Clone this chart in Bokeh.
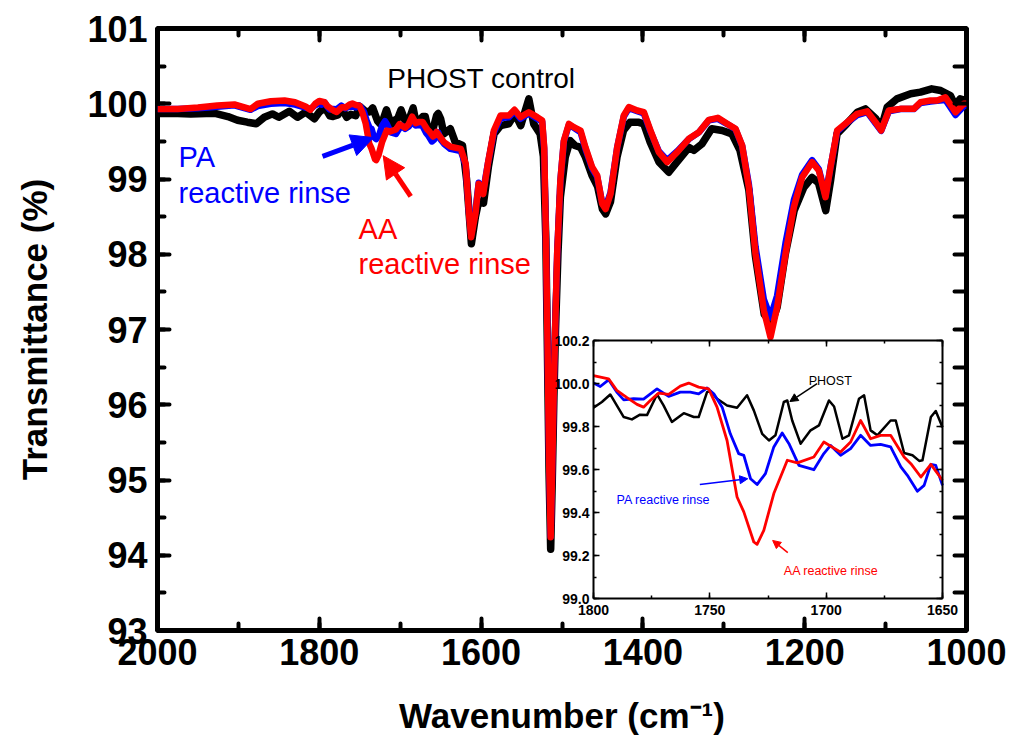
from bokeh.plotting import figure
from bokeh.models import (Range1d, LinearAxis, SingleIntervalTicker, NumeralTickFormatter,
                          Label, Arrow, NormalHead, CustomLabelingPolicy)
from bokeh.embed import file_html
from bokeh.resources import INLINE

FONT = "Liberation Sans"

# ---------------- main spectra (wavenumber cm-1, transmittance %) ----------------
wn_phost = [2000, 1975, 1959, 1930, 1913, 1901, 1889, 1878, 1868, 1858, 1850, 1837, 1827, 1817, 1806,
            1800, 1793, 1787, 1783, 1777, 1773, 1766, 1761, 1755, 1750, 1743, 1738, 1734, 1728, 1725,
            1722, 1717, 1711, 1707, 1703, 1699, 1693, 1690, 1684, 1681, 1678, 1672, 1669, 1666, 1660,
            1655, 1653, 1650, 1646, 1638, 1632, 1623, 1618, 1612, 1607, 1603, 1597, 1591, 1584, 1576,
            1566, 1558, 1551, 1541, 1535, 1527, 1523, 1520, 1518, 1516, 1514, 1512, 1510, 1508, 1505,
            1502, 1496, 1490, 1484, 1477, 1471, 1463, 1456, 1450, 1446, 1440, 1432, 1424, 1416, 1406,
            1399, 1391, 1380, 1368, 1358, 1343, 1337, 1327, 1315, 1302, 1290, 1280, 1269, 1261, 1250,
            1241, 1234, 1224, 1213, 1201, 1191, 1183, 1174, 1168, 1160, 1148, 1135, 1125, 1112, 1105,
            1098, 1086, 1069, 1057, 1043, 1032, 1020, 1014, 1008, 1000]
t_phost = [99.87, 99.87, 99.865, 99.875, 99.83, 99.78, 99.755, 99.735, 99.82, 99.865, 99.82, 99.90, 99.82, 99.89, 99.80,
           99.89, 99.95, 99.84, 99.83, 99.85, 99.95, 99.82, 99.86, 99.84, 99.965, 99.90, 99.89, 99.945, 99.77, 99.735,
           99.76, 99.92, 99.72, 99.78, 99.805, 99.92, 99.745, 99.76, 99.945, 99.78, 99.76, 99.83, 99.83, 99.68, 99.64,
           99.845, 99.87, 99.80, 99.60, 99.667, 99.49, 99.445, 99.0, 98.14, 98.50, 98.70, 98.68, 99.16, 99.60, 99.71,
           99.733, 99.866, 99.71, 100.065, 99.733, 99.60, 99.3, 98.2, 96.7, 95.1, 94.08, 95.0, 96.1, 97.0, 98.0,
           98.76, 99.29, 99.51, 99.445, 99.42, 99.29, 99.05, 98.90, 98.60, 98.537, 98.70, 99.29, 99.644, 99.755, 99.755,
           99.733, 99.49, 99.224, 99.09, 99.224, 99.42, 99.38, 99.467, 99.667, 99.644, 99.60, 99.38, 98.85, 97.98, 97.20,
           97.08, 97.30, 98.00, 98.58, 98.89, 99.02, 98.95, 98.58, 98.98, 99.60, 99.733, 99.888, 99.932, 99.80, 99.689,
           99.955, 100.065, 100.132, 100.154, 100.198, 100.176, 100.11, 99.977, 100.065, 100.04]

wn_pa = [2000, 1975, 1950, 1926, 1905, 1885, 1876, 1860, 1843, 1830, 1817, 1811, 1805,
         1800, 1797, 1793.5, 1790, 1787, 1782.8, 1778.5, 1772.7, 1767.7, 1762.7, 1758.4, 1754.8, 1751.2,
         1748.3, 1744.7, 1741.2, 1737.6, 1735.4, 1732.5, 1729.7, 1726.1, 1722.5, 1718.9, 1716, 1711.7,
         1705.3, 1701, 1698.1, 1693.8, 1689.5, 1685.2, 1680.9, 1676.6, 1672.3, 1667.9, 1665.1, 1660.8,
         1657.9, 1655, 1652.9, 1650,
         1646, 1638, 1625, 1619, 1615, 1612.3, 1607, 1603, 1597.4, 1591.7, 1584.2, 1576, 1565.7, 1558.7,
         1551.3, 1541, 1530.7, 1524.5, 1522, 1520, 1518, 1516, 1514, 1512, 1510, 1508, 1506, 1502, 1497.7,
         1491.5, 1485.4, 1477, 1471, 1462.7, 1456.5, 1450.3, 1446.2, 1440, 1431.8, 1423.6, 1417.4, 1407,
         1398.8, 1390.6, 1380.3, 1370, 1357.6, 1343.2, 1330.8, 1318.5, 1307.4, 1295.8, 1285.5, 1277.3,
         1269, 1260.8, 1250.5, 1242.3, 1234.1, 1223.7, 1213.4, 1203.1, 1190.8, 1182.5, 1174.3, 1168.1,
         1159.9, 1147.5, 1135.1, 1122.8, 1112.5, 1105.5, 1096, 1081.6, 1065.1, 1056.9, 1044.5, 1036.3,
         1026, 1013.6, 1003.3, 1000]
t_pa = [99.93, 99.93, 99.94, 99.96, 99.98, 99.92, 99.97, 100.0, 100.01, 99.99, 99.95, 99.93, 99.98,
        100.002, 99.986, 100.017, 99.96, 99.924, 99.929, 99.927, 99.975, 99.94, 99.96, 99.96, 99.952, 99.979,
        99.952, 99.89, 99.766, 99.674, 99.666, 99.557, 99.53, 99.581, 99.705, 99.77, 99.72, 99.619,
        99.599, 99.674, 99.712, 99.666, 99.697, 99.759, 99.712, 99.717, 99.705, 99.612, 99.573, 99.499,
        99.526, 99.624, 99.619, 99.526,
        99.47, 99.40, 99.37, 99.18, 98.56, 98.26, 98.58, 98.95, 98.84, 99.2, 99.62, 99.81, 99.82, 99.90,
        99.80, 99.87, 99.80, 99.76, 99.40, 98.3, 96.9, 95.3, 94.25, 95.2, 96.3, 97.2, 98.0, 98.98, 99.50,
        99.72, 99.68, 99.62, 99.40, 99.14, 99.03, 98.68, 98.63, 98.82, 99.42, 99.83, 99.94, 99.90,
        99.87, 99.63, 99.37, 99.25, 99.37, 99.53, 99.62, 99.78, 99.80, 99.73, 99.66, 99.44,
        98.93, 98.10, 97.40, 97.16, 97.45, 98.15, 98.72, 99.06, 99.25, 99.13, 98.78, 99.16,
        99.63, 99.75, 99.85, 99.89, 99.74, 99.64, 99.90, 99.93, 99.93, 100.01, 100.03, 100.04,
        100.05, 99.85, 99.97, 99.98]

wn_aa = [2000, 1975, 1950, 1926, 1905, 1885, 1876, 1860, 1843, 1830, 1817, 1811, 1805,
         1800, 1793.5, 1790, 1785.6, 1781.3, 1778.5, 1775.6, 1772, 1767.7, 1762.7, 1759.1, 1754.8, 1750.5,
         1746.9, 1742.6, 1738.3, 1735.4, 1731.1, 1729.7, 1726.8, 1722.5, 1716.7, 1712.4, 1705.3, 1701,
         1693.8, 1689.5, 1685.2, 1680.9, 1676.6, 1672.3, 1666.5, 1663.6, 1659.3, 1655, 1650,
         1646, 1638, 1625, 1619, 1615, 1612.3, 1607, 1603, 1597.4, 1591.7, 1584.2, 1576, 1565.7, 1558.7,
         1551.3, 1541, 1530.7, 1524.5, 1522, 1520, 1518, 1516, 1514, 1512, 1510, 1508, 1506, 1502, 1497.7,
         1491.5, 1485.4, 1477, 1471, 1462.7, 1456.5, 1450.3, 1446.2, 1440, 1431.8, 1423.6, 1417.4, 1407,
         1398.8, 1390.6, 1380.3, 1370, 1357.6, 1343.2, 1330.8, 1318.5, 1307.4, 1295.8, 1285.5, 1277.3,
         1269, 1260.8, 1250.5, 1242.3, 1234.1, 1223.7, 1213.4, 1203.1, 1190.8, 1182.5, 1174.3, 1168.1,
         1159.9, 1147.5, 1135.1, 1122.8, 1112.5, 1105.5, 1096, 1081.6, 1065.1, 1056.9, 1044.5, 1036.3,
         1026, 1013.6, 1003.3, 1000]
t_aa = [99.93, 99.93, 99.95, 99.977, 99.99, 99.93, 100.0, 100.034, 100.043, 100.02, 99.963, 99.92, 100.0,
        100.037, 100.022, 99.968, 99.934, 99.903, 99.89, 99.921, 99.955, 99.949, 99.988, 100.002, 99.983, 99.975,
        99.89, 99.735, 99.472, 99.403, 99.263, 99.252, 99.317, 99.488, 99.643, 99.631, 99.658, 99.728,
        99.681, 99.728, 99.828, 99.743, 99.759, 99.759, 99.658, 99.627, 99.565, 99.624, 99.55,
        99.49, 99.43, 99.40, 99.2, 98.54, 98.227, 98.54, 98.936, 98.80, 99.2, 99.644, 99.844, 99.844, 99.92,
        99.822, 99.888, 99.822, 99.777, 99.42, 98.3, 96.9, 95.3, 94.24, 95.2, 96.3, 97.2, 98.0, 98.98, 99.51,
        99.733, 99.689, 99.644, 99.42, 99.157, 99.046, 98.67, 98.60, 98.80, 99.42, 99.844, 99.955, 99.91,
        99.888, 99.644, 99.357, 99.224, 99.357, 99.534, 99.622, 99.786, 99.813, 99.733, 99.667, 99.445,
        98.891, 98.005, 97.252, 96.898, 97.297, 98.005, 98.625, 99.024, 99.224, 99.113, 98.758, 99.157,
        99.644, 99.755, 99.866, 99.90, 99.755, 99.644, 99.91, 99.932, 99.932, 100.02, 100.043, 100.043,
        100.087, 99.888, 99.999, 100.0]

# ---------------- inset spectra (1800-1650 cm-1) ----------------
in_wn_phost = [1800, 1796.4, 1792.8, 1790, 1787, 1783.5, 1780, 1777, 1772.7, 1769.9, 1766.3, 1761.2,
               1756.9, 1754.8, 1751.2, 1749.8, 1746.9, 1742.6, 1738.3, 1734, 1731.1, 1727.5, 1724.6,
               1721.8, 1718.2, 1716.7, 1714.6, 1711, 1706.7, 1703.1, 1698.8, 1696.6, 1693, 1690.2,
               1685.9, 1683.7, 1680.9, 1678, 1672.3, 1670.1, 1666.5, 1662.9, 1660, 1658.6, 1655,
               1652.9, 1650]
in_t_phost = [99.887, 99.914, 99.949, 99.898, 99.844, 99.833, 99.855, 99.853, 99.949, 99.898, 99.821, 99.862,
              99.844, 99.844, 99.96, 99.965, 99.929, 99.898, 99.887, 99.945, 99.875, 99.766, 99.735,
              99.759, 99.914, 99.921, 99.828, 99.72, 99.782, 99.805, 99.921, 99.893, 99.743, 99.759,
              99.929, 99.945, 99.782, 99.759, 99.828, 99.828, 99.677, 99.666, 99.64, 99.643, 99.844,
              99.872, 99.797]

in_wn_pa = [1800, 1797.1, 1793.5, 1790, 1787, 1782.8, 1778.5, 1772.7, 1767.7, 1762.7, 1758.4, 1754.8,
            1751.2, 1748.3, 1744.7, 1741.2, 1737.6, 1735.4, 1732.5, 1729.7, 1726.1, 1722.5, 1718.9,
            1716, 1711.7, 1705.3, 1701, 1698.1, 1693.8, 1689.5, 1685.2, 1680.9, 1676.6, 1672.3,
            1667.9, 1665.1, 1660.8, 1657.9, 1655, 1652.9, 1650]
in_t_pa = [100.002, 99.986, 100.017, 99.96, 99.924, 99.929, 99.927, 99.975, 99.94, 99.96, 99.96, 99.952,
           99.979, 99.952, 99.89, 99.766, 99.674, 99.666, 99.557, 99.53, 99.581, 99.705, 99.77,
           99.72, 99.619, 99.599, 99.674, 99.712, 99.666, 99.697, 99.759, 99.712, 99.717, 99.705,
           99.612, 99.573, 99.499, 99.526, 99.624, 99.619, 99.526]

in_wn_aa = [1800, 1793.5, 1790, 1785.6, 1781.3, 1778.5, 1775.6, 1772, 1767.7, 1762.7, 1759.1, 1754.8,
            1750.5, 1746.9, 1742.6, 1738.3, 1735.4, 1731.1, 1729.7, 1726.8, 1722.5, 1716.7, 1712.4,
            1705.3, 1701, 1693.8, 1689.5, 1685.2, 1680.9, 1676.6, 1672.3, 1666.5, 1663.6, 1659.3,
            1655, 1650]
in_t_aa = [100.037, 100.022, 99.968, 99.934, 99.903, 99.89, 99.921, 99.955, 99.949, 99.988, 100.002, 99.983,
           99.975, 99.89, 99.735, 99.472, 99.403, 99.263, 99.252, 99.317, 99.488, 99.643, 99.631,
           99.658, 99.728, 99.681, 99.728, 99.828, 99.743, 99.759, 99.759, 99.658, 99.627, 99.565,
           99.624, 99.55]

# ---------------- layout (pixels) ----------------
W, H = 1009, 746
FL, FR, FT, FB = 157, 966, 28, 630          # main frame edges
IL, IR, IT, IB = 593, 942, 340, 598         # inset frame edges
X0, X1 = 2000, 1000
Y0, Y1 = 93, 101
IX0, IX1 = 1800, 1650
IY0, IY1 = 99.0, 100.2

# extra ranges that place the inset's data inside its box
ixs = (IR - IL) / (IX0 - IX1)
iys = (IB - IT) / (IY1 - IY0)
ix_start = IX0 + (IL - FL) / ixs
ix_end = IX1 - (FR - IR) / ixs
iy_end = IY1 + (IT - FT) / iys
iy_start = IY0 - (FB - IB) / iys

p = figure(width=W, height=H, output_backend="svg", toolbar_location=None,
           x_range=Range1d(X0, X1), y_range=Range1d(Y0, Y1),
           x_axis_type=None, y_axis_type=None,
           min_border_left=FL, min_border_right=W - FR, min_border_top=FT, min_border_bottom=H - FB)
p.extra_x_ranges = {"ix": Range1d(ix_start, ix_end)}
p.extra_y_ranges = {"iy": Range1d(iy_start, iy_end)}
p.xgrid.visible = False
p.ygrid.visible = False
p.outline_line_color = "black"
p.outline_line_width = 5
p.background_fill_color = "white"
p.border_fill_color = "white"

NO_LABELS = CustomLabelingPolicy(code="return;")


def style_main(ax, labels):
    ax.axis_line_color = None
    ax.major_tick_in = 12
    ax.major_tick_out = 0
    ax.minor_tick_in = 7
    ax.minor_tick_out = 0
    ax.major_tick_line_width = 4
    ax.minor_tick_line_width = 4
    ax.major_tick_line_cap = "round"
    ax.minor_tick_line_cap = "round"
    if labels:
        ax.major_label_text_font = FONT
        ax.major_label_text_font_size = "36px"
        ax.major_label_text_font_style = "bold"
        ax.major_label_text_color = "black"
        ax.axis_label_text_font = FONT
        ax.axis_label_text_font_size = "35px"
        ax.axis_label_text_font_style = "bold"
        ax.axis_label_text_color = "black"
    else:
        ax.major_label_policy = NO_LABELS


xb = LinearAxis(ticker=SingleIntervalTicker(interval=200, num_minor_ticks=2),
                axis_label="Wavenumber (cm\u207b\u00b9)")
style_main(xb, True)
xb.major_label_standoff = 8
xb.axis_label_standoff = 28
p.add_layout(xb, "below")

xt = LinearAxis(ticker=SingleIntervalTicker(interval=200, num_minor_ticks=2))
style_main(xt, False)
p.add_layout(xt, "above")

yl = LinearAxis(ticker=SingleIntervalTicker(interval=1, num_minor_ticks=2),
                axis_label="Transmittance (%)")
style_main(yl, True)
yl.major_label_standoff = 10
yl.axis_label_standoff = 30
p.add_layout(yl, "left")

yr = LinearAxis(ticker=SingleIntervalTicker(interval=0.5, num_minor_ticks=0))
style_main(yr, False)
p.add_layout(yr, "right")

# main spectra
p.line(wn_phost, t_phost, line_color="black", line_width=7.5, line_join="round")
p.line(wn_pa, t_pa, line_color="#0000ff", line_width=6.5, line_join="round")
p.line(wn_aa, t_aa, line_color="#ff0000", line_width=6.5, line_join="round")

# main annotations
p.add_layout(Label(x=1716, y=100.33, text="PHOST control", text_font=FONT, text_font_size="28px",
                   text_color="black", text_baseline="alphabetic"))
p.add_layout(Label(x=1974, y=99.29, text="PA", text_font=FONT, text_font_size="29px",
                   text_color="#0000ff", text_baseline="alphabetic"))
p.add_layout(Label(x=1974, y=98.82, text="reactive rinse", text_font=FONT, text_font_size="29px",
                   text_color="#0000ff", text_baseline="alphabetic"))
p.add_layout(Label(x=1751.5, y=98.33, text="AA", text_font=FONT, text_font_size="29px",
                   text_color="#ff0000", text_baseline="alphabetic"))
p.add_layout(Label(x=1751.5, y=97.877, text="reactive rinse", text_font=FONT, text_font_size="29px",
                   text_color="#ff0000", text_baseline="alphabetic"))
p.add_layout(Arrow(x_start=1796, y_start=99.30, x_end=1733, y_end=99.55, line_color="#0000ff", line_width=5,
                   end=NormalHead(size=22, fill_color="#0000ff", line_color="#0000ff", line_width=1)))
p.add_layout(Arrow(x_start=1687, y_start=98.77, x_end=1721, y_end=99.31, line_color="#ff0000", line_width=5,
                   end=NormalHead(size=22, fill_color="#ff0000", line_color="#ff0000", line_width=1)))


# ---------------- inset ----------------
def style_inset(ax, labels):
    ax.axis_line_color = "black"
    ax.axis_line_width = 2
    ax.major_tick_in = 6
    ax.major_tick_out = 0
    ax.minor_tick_in = 3
    ax.minor_tick_out = 0
    ax.major_tick_line_width = 1.5
    ax.minor_tick_line_width = 1.5
    if labels:
        ax.major_label_text_font = FONT
        ax.major_label_text_font_size = "14px"
        ax.major_label_text_font_style = "bold"
        ax.major_label_text_color = "black"
    else:
        ax.major_label_policy = NO_LABELS


for side, loc, labels in (("below", IY0, True), ("above", IY1, False)):
    ax = LinearAxis(x_range_name="ix", y_range_name="iy", fixed_location=loc, bounds=(IX1, IX0),
                    ticker=SingleIntervalTicker(interval=50, num_minor_ticks=2))
    style_inset(ax, labels)
    ax.major_label_standoff = 6
    p.add_layout(ax, side)

for side, loc, labels in (("left", IX0, True), ("right", IX1, False)):
    ax = LinearAxis(x_range_name="ix", y_range_name="iy", fixed_location=loc, bounds=(IY0, IY1),
                    ticker=SingleIntervalTicker(interval=0.2, num_minor_ticks=2),
                    formatter=NumeralTickFormatter(format="0.0"))
    style_inset(ax, labels)
    ax.major_label_standoff = 4
    p.add_layout(ax, side)

p.line(in_wn_phost, in_t_phost, line_color="black", line_width=2.5, line_join="round",
       x_range_name="ix", y_range_name="iy")
p.line(in_wn_pa, in_t_pa, line_color="#0000ff", line_width=2.8, line_join="round",
       x_range_name="ix", y_range_name="iy")
p.line(in_wn_aa, in_t_aa, line_color="#ff0000", line_width=2.8, line_join="round",
       x_range_name="ix", y_range_name="iy")

p.add_layout(Label(x=1707.5, y=100.011, text="PHOST", text_font=FONT, text_font_size="12.5px",
                   text_color="black", text_baseline="alphabetic", x_range_name="ix", y_range_name="iy"))
p.add_layout(Label(x=1790.1, y=99.46, text="PA reactive rinse", text_font=FONT, text_font_size="12.5px",
                   text_color="#0000ff", text_baseline="alphabetic", x_range_name="ix", y_range_name="iy"))
p.add_layout(Label(x=1718.2, y=99.127, text="AA reactive rinse", text_font=FONT, text_font_size="12.5px",
                   text_color="#ff0000", text_baseline="alphabetic", x_range_name="ix", y_range_name="iy"))
p.add_layout(Arrow(x_start=1703.9, y_start=99.999, x_end=1715.6, y_end=99.916, line_color="black",
                   line_width=1.5, x_range_name="ix", y_range_name="iy",
                   end=NormalHead(size=8, fill_color="black", line_color="black", line_width=1)))
p.add_layout(Arrow(x_start=1754.3, y_start=99.530, x_end=1733.7, y_end=99.557, line_color="#0000ff",
                   line_width=1.5, x_range_name="ix", y_range_name="iy",
                   end=NormalHead(size=8, fill_color="#0000ff", line_color="#0000ff", line_width=1)))
p.add_layout(Arrow(x_start=1716.5, y_start=99.213, x_end=1723.0, y_end=99.270, line_color="#ff0000",
                   line_width=1.5, x_range_name="ix", y_range_name="iy",
                   end=NormalHead(size=8, fill_color="#ff0000", line_color="#ff0000", line_width=1)))

open("out.html", "w").write(file_html(p, INLINE))
